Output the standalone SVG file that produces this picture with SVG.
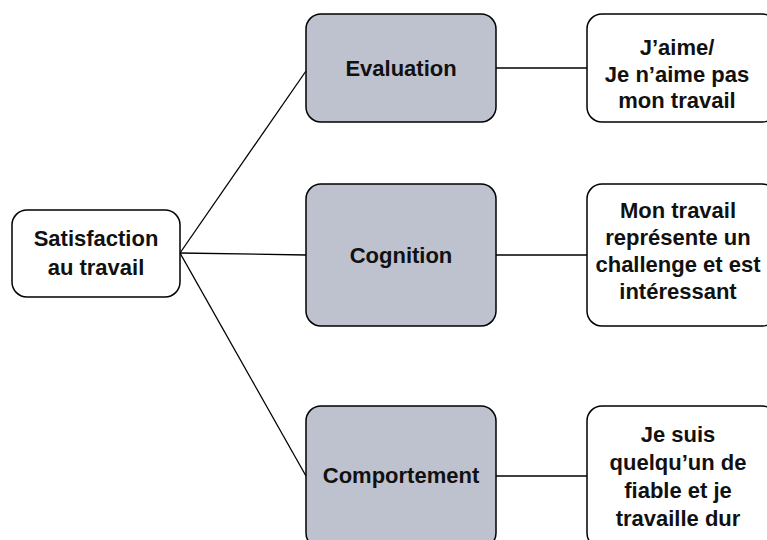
<svg xmlns="http://www.w3.org/2000/svg" width="767" height="540" viewBox="0 0 767 540">
<style>
.box{stroke:#000;stroke-width:1.5}
.w{fill:#fff}
.g{fill:#BEC2CE}
.t{font-family:"Liberation Sans",Arial,sans-serif;font-weight:bold;font-size:22px;fill:#111;text-anchor:middle}
.c{stroke:#000;stroke-width:1.3;fill:none}
</style>
<rect width="767" height="540" fill="#fff"/>
<g id="connectors">
<line class="c" x1="180" y1="253" x2="306" y2="71"/>
<line class="c" x1="180" y1="253" x2="306" y2="255"/>
<line class="c" x1="180" y1="253" x2="306" y2="476"/>
<line class="c" x1="496" y1="68" x2="587" y2="68"/>
<line class="c" x1="496" y1="255" x2="587" y2="255"/>
<line class="c" x1="496" y1="476" x2="587" y2="476"/>
</g>
<g id="satisfaction">
<rect class="box w" x="12" y="210" width="168" height="87" rx="15"/>
<text class="t" x="96" y="246">Satisfaction</text>
<text class="t" x="96" y="275">au travail</text>
</g>
<g id="evaluation">
<rect class="box g" x="306" y="14" width="190" height="108" rx="15"/>
<text class="t" x="401" y="76">Evaluation</text>
</g>
<g id="cognition">
<rect class="box g" x="306" y="184" width="190" height="142" rx="15"/>
<text class="t" x="401" y="263">Cognition</text>
</g>
<g id="comportement">
<rect class="box g" x="306" y="406" width="190" height="142" rx="15"/>
<text class="t" x="401" y="483">Comportement</text>
</g>
<g id="eval-example">
<rect class="box w" x="587" y="14" width="190" height="108" rx="15"/>
<text class="t" x="677" y="55">J’aime/</text>
<text class="t" x="677" y="82">Je n’aime pas</text>
<text class="t" x="677" y="108">mon travail</text>
</g>
<g id="cognition-example">
<rect class="box w" x="587" y="184" width="190" height="142" rx="15"/>
<text class="t" x="678" y="218">Mon travail</text>
<text class="t" x="678" y="245">représente un</text>
<text class="t" x="678" y="272">challenge et est</text>
<text class="t" x="678" y="299">intéressant</text>
</g>
<g id="comportement-example">
<rect class="box w" x="587" y="406" width="190" height="142" rx="15"/>
<text class="t" x="678" y="442">Je suis</text>
<text class="t" x="678" y="470">quelqu’un de</text>
<text class="t" x="678" y="498">fiable et je</text>
<text class="t" x="678" y="526">travaille dur</text>
</g>
</svg>
